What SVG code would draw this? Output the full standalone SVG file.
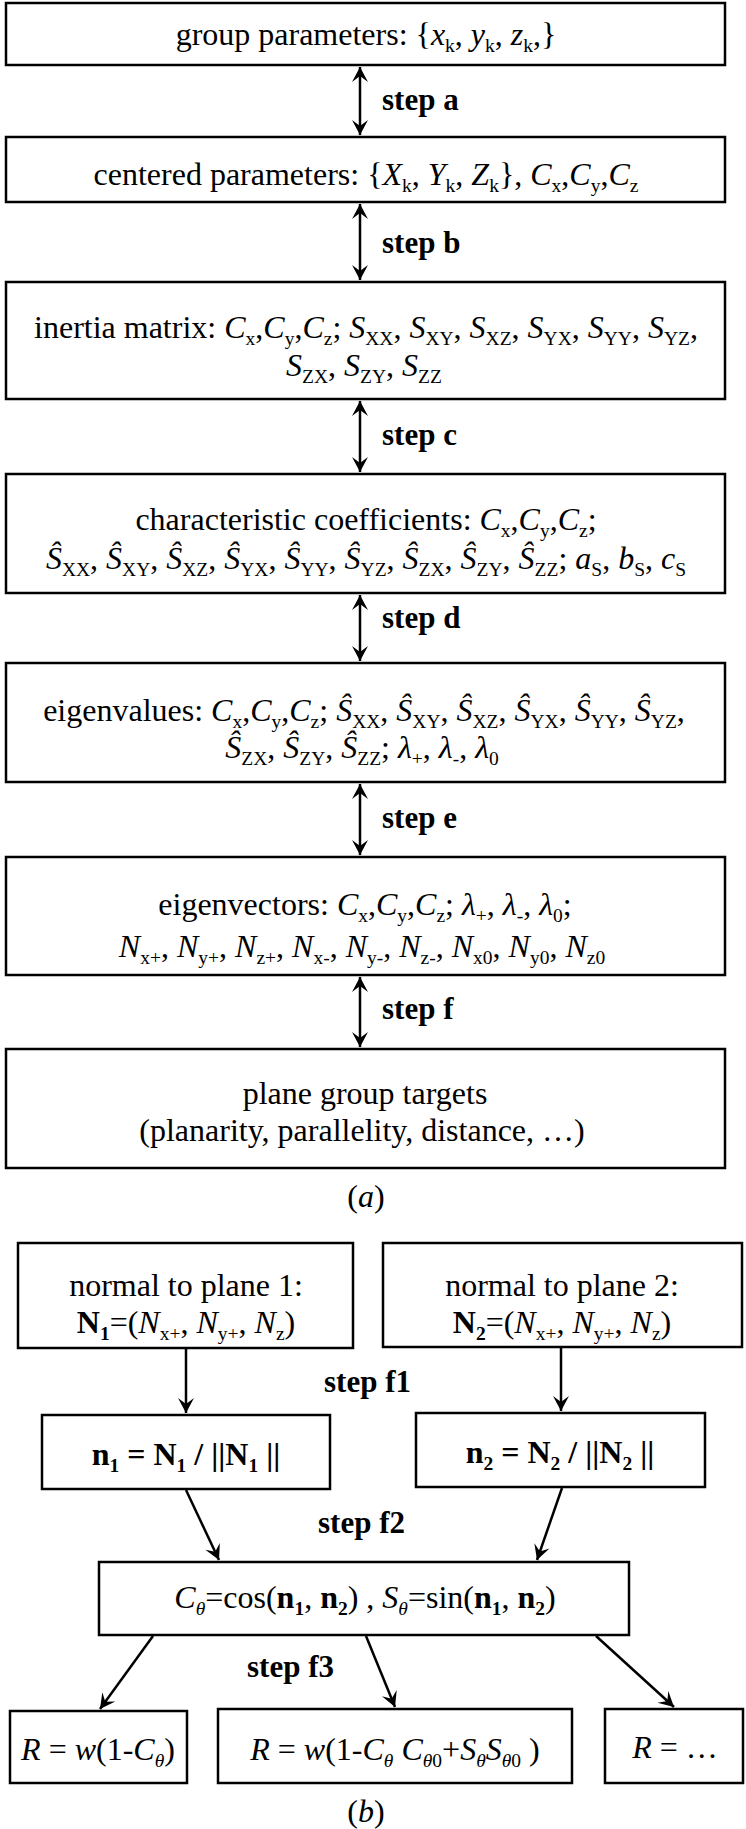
<svg xmlns="http://www.w3.org/2000/svg" width="746" height="1829" viewBox="0 0 746 1829">
<style>
rect{fill:#fff;stroke:#000;stroke-width:2.5}
.c line{stroke:#000;stroke-width:2.5}
text{font-family:"Liberation Serif","Times New Roman",serif;font-size:32px;fill:#000;text-anchor:middle}
.i{font-style:italic}
.b{font-weight:bold}
.s{font-size:19.5px;baseline-shift:-7px}
.st{font-weight:bold;font-size:31px;text-anchor:start}
</style>
<defs>
<marker id="ah" viewBox="-16 -9 17 18" refX="0" refY="0" markerWidth="17" markerHeight="18" markerUnits="userSpaceOnUse" orient="auto-start-reverse">
<path d="M0,0 L-15,-8 L-9,0 L-15,8 Z" fill="#000"/>
</marker>
</defs>
<rect width="746" height="1829" style="stroke:none"/>

<g id="connectors" class="c">
<line x1="360" y1="67" x2="360" y2="135" marker-start="url(#ah)" marker-end="url(#ah)"/>
<line x1="360" y1="204" x2="360" y2="280" marker-start="url(#ah)" marker-end="url(#ah)"/>
<line x1="360" y1="401" x2="360" y2="472" marker-start="url(#ah)" marker-end="url(#ah)"/>
<line x1="360" y1="595" x2="360" y2="661" marker-start="url(#ah)" marker-end="url(#ah)"/>
<line x1="360" y1="784" x2="360" y2="855" marker-start="url(#ah)" marker-end="url(#ah)"/>
<line x1="360" y1="977" x2="360" y2="1047" marker-start="url(#ah)" marker-end="url(#ah)"/>
<line x1="186" y1="1349" x2="186" y2="1413" marker-end="url(#ah)"/>
<line x1="561" y1="1348" x2="561" y2="1411" marker-end="url(#ah)"/>
<line x1="186" y1="1490" x2="219" y2="1560" marker-end="url(#ah)"/>
<line x1="562" y1="1488" x2="537" y2="1560" marker-end="url(#ah)"/>
<line x1="153" y1="1636" x2="100" y2="1709" marker-end="url(#ah)"/>
<line x1="366" y1="1636" x2="395" y2="1707" marker-end="url(#ah)"/>
<line x1="596" y1="1636" x2="674" y2="1707" marker-end="url(#ah)"/>
<text class="st" x="382" y="110">step a</text>
<text class="st" x="382" y="253">step b</text>
<text class="st" x="382" y="445">step c</text>
<text class="st" x="382" y="628">step d</text>
<text class="st" x="382" y="828">step e</text>
<text class="st" x="382" y="1019">step f</text>
<text class="st" x="324" y="1392">step f1</text>
<text class="st" x="318" y="1533">step f2</text>
<text class="st" x="247" y="1677">step f3</text>
</g>

<g id="box1">
<rect x="6" y="3" width="719" height="62"/>
<text x="366" y="45">group parameters: {<tspan class="i">x</tspan><tspan class="s">k</tspan>, <tspan class="i">y</tspan><tspan class="s">k</tspan>, <tspan class="i">z</tspan><tspan class="s">k</tspan>,}</text>
</g>

<g id="box2">
<rect x="6" y="137" width="719" height="65"/>
<text x="366" y="185">centered parameters: {<tspan class="i">X</tspan><tspan class="s">k</tspan>, <tspan class="i">Y</tspan><tspan class="s">k</tspan>, <tspan class="i">Z</tspan><tspan class="s">k</tspan>}, <tspan class="i">C</tspan><tspan class="s">x</tspan>,<tspan class="i">C</tspan><tspan class="s">y</tspan>,<tspan class="i">C</tspan><tspan class="s">z</tspan></text>
</g>

<g id="box3">
<rect x="6" y="282" width="719" height="117"/>
<text x="366" y="338">inertia matrix: <tspan class="i">C</tspan><tspan class="s">x</tspan>,<tspan class="i">C</tspan><tspan class="s">y</tspan>,<tspan class="i">C</tspan><tspan class="s">z</tspan>; <tspan class="i">S</tspan><tspan class="s">XX</tspan>, <tspan class="i">S</tspan><tspan class="s">XY</tspan>, <tspan class="i">S</tspan><tspan class="s">XZ</tspan>, <tspan class="i">S</tspan><tspan class="s">YX</tspan>, <tspan class="i">S</tspan><tspan class="s">YY</tspan>, <tspan class="i">S</tspan><tspan class="s">YZ</tspan>,</text>
<text x="364" y="376"><tspan class="i">S</tspan><tspan class="s">ZX</tspan>, <tspan class="i">S</tspan><tspan class="s">ZY</tspan>, <tspan class="i">S</tspan><tspan class="s">ZZ</tspan></text>
</g>

<g id="box4">
<rect x="6" y="474" width="719" height="119"/>
<text x="366" y="530">characteristic coefficients: <tspan class="i">C</tspan><tspan class="s">x</tspan>,<tspan class="i">C</tspan><tspan class="s">y</tspan>,<tspan class="i">C</tspan><tspan class="s">z</tspan>;</text>
<text x="366" y="569"><tspan class="i">Ŝ</tspan><tspan class="s">XX</tspan>, <tspan class="i">Ŝ</tspan><tspan class="s">XY</tspan>, <tspan class="i">Ŝ</tspan><tspan class="s">XZ</tspan>, <tspan class="i">Ŝ</tspan><tspan class="s">YX</tspan>, <tspan class="i">Ŝ</tspan><tspan class="s">YY</tspan>, <tspan class="i">Ŝ</tspan><tspan class="s">YZ</tspan>, <tspan class="i">Ŝ</tspan><tspan class="s">ZX</tspan>, <tspan class="i">Ŝ</tspan><tspan class="s">ZY</tspan>, <tspan class="i">Ŝ</tspan><tspan class="s">ZZ</tspan>; <tspan class="i">a</tspan><tspan class="s">S</tspan>, <tspan class="i">b</tspan><tspan class="s">S</tspan>, <tspan class="i">c</tspan><tspan class="s">S</tspan></text>
</g>

<g id="box5">
<rect x="6" y="663" width="719" height="119"/>
<text x="364" y="721">eigenvalues: <tspan class="i">C</tspan><tspan class="s">x</tspan>,<tspan class="i">C</tspan><tspan class="s">y</tspan>,<tspan class="i">C</tspan><tspan class="s">z</tspan>; <tspan class="i">Ŝ</tspan><tspan class="s">XX</tspan>, <tspan class="i">Ŝ</tspan><tspan class="s">XY</tspan>, <tspan class="i">Ŝ</tspan><tspan class="s">XZ</tspan>, <tspan class="i">Ŝ</tspan><tspan class="s">YX</tspan>, <tspan class="i">Ŝ</tspan><tspan class="s">YY</tspan>, <tspan class="i">Ŝ</tspan><tspan class="s">YZ</tspan>,</text>
<text x="362" y="758"><tspan class="i">Ŝ</tspan><tspan class="s">ZX</tspan>, <tspan class="i">Ŝ</tspan><tspan class="s">ZY</tspan>, <tspan class="i">Ŝ</tspan><tspan class="s">ZZ</tspan>; <tspan class="i">λ</tspan><tspan class="s">+</tspan>, <tspan class="i">λ</tspan><tspan class="s">-</tspan>, <tspan class="i">λ</tspan><tspan class="s">0</tspan></text>
</g>

<g id="box6">
<rect x="6" y="857" width="719" height="118"/>
<text x="365" y="915">eigenvectors: <tspan class="i">C</tspan><tspan class="s">x</tspan>,<tspan class="i">C</tspan><tspan class="s">y</tspan>,<tspan class="i">C</tspan><tspan class="s">z</tspan>; <tspan class="i">λ</tspan><tspan class="s">+</tspan>, <tspan class="i">λ</tspan><tspan class="s">-</tspan>, <tspan class="i">λ</tspan><tspan class="s">0</tspan>;</text>
<text x="362" y="957"><tspan class="i">N</tspan><tspan class="s">x+</tspan>, <tspan class="i">N</tspan><tspan class="s">y+</tspan>, <tspan class="i">N</tspan><tspan class="s">z+</tspan>, <tspan class="i">N</tspan><tspan class="s">x-</tspan>, <tspan class="i">N</tspan><tspan class="s">y-</tspan>, <tspan class="i">N</tspan><tspan class="s">z-</tspan>, <tspan class="i">N</tspan><tspan class="s">x0</tspan>, <tspan class="i">N</tspan><tspan class="s">y0</tspan>, <tspan class="i">N</tspan><tspan class="s">z0</tspan></text>
</g>

<g id="box7">
<rect x="6" y="1049" width="719" height="119"/>
<text x="365" y="1104">plane group targets</text>
<text x="362" y="1141">(planarity, parallelity, distance, …)</text>
</g>

<g id="label-a">
<text x="366" y="1207">(<tspan class="i">a</tspan>)</text>
</g>

<g id="box8">
<rect x="18" y="1243" width="335" height="105"/>
<text x="186" y="1296">normal to plane 1:</text>
<text x="186" y="1333"><tspan class="b">N</tspan><tspan class="s b">1</tspan>=(<tspan class="i">N</tspan><tspan class="s">x+</tspan>, <tspan class="i">N</tspan><tspan class="s">y+</tspan>, <tspan class="i">N</tspan><tspan class="s">z</tspan>)</text>
</g>

<g id="box9">
<rect x="383" y="1243" width="359" height="104"/>
<text x="562" y="1296">normal to plane 2:</text>
<text x="562" y="1333"><tspan class="b">N</tspan><tspan class="s b">2</tspan>=(<tspan class="i">N</tspan><tspan class="s">x+</tspan>, <tspan class="i">N</tspan><tspan class="s">y+</tspan>, <tspan class="i">N</tspan><tspan class="s">z</tspan>)</text>
</g>

<g id="box10">
<rect x="42" y="1415" width="288" height="74"/>
<text class="b" x="186" y="1465">n<tspan class="s">1</tspan> = N<tspan class="s">1</tspan> / ||N<tspan class="s">1</tspan> ||</text>
</g>

<g id="box11">
<rect x="416" y="1413" width="289" height="74"/>
<text class="b" x="560" y="1463">n<tspan class="s">2</tspan> = N<tspan class="s">2</tspan> / ||N<tspan class="s">2</tspan> ||</text>
</g>

<g id="box12">
<rect x="99" y="1562" width="530" height="73"/>
<text x="365" y="1608"><tspan class="i">C</tspan><tspan class="s i">θ</tspan>=cos(<tspan class="b">n</tspan><tspan class="s b">1</tspan>, <tspan class="b">n</tspan><tspan class="s b">2</tspan>) , <tspan class="i">S</tspan><tspan class="s i">θ</tspan>=sin(<tspan class="b">n</tspan><tspan class="s b">1</tspan>, <tspan class="b">n</tspan><tspan class="s b">2</tspan>)</text>
</g>

<g id="box13">
<rect x="10" y="1711" width="177" height="72"/>
<text x="98" y="1760"><tspan class="i">R</tspan> = <tspan class="i">w</tspan>(1-<tspan class="i">C</tspan><tspan class="s i">θ</tspan>)</text>
</g>

<g id="box14">
<rect x="218" y="1709" width="354" height="74"/>
<text x="395" y="1760"><tspan class="i">R</tspan> = <tspan class="i">w</tspan>(1-<tspan class="i">C</tspan><tspan class="s i">θ</tspan> <tspan class="i">C</tspan><tspan class="s"><tspan class="i">θ</tspan>0</tspan>+<tspan class="i">S</tspan><tspan class="s i">θ</tspan><tspan class="i">S</tspan><tspan class="s"><tspan class="i">θ</tspan>0</tspan> )</text>
</g>

<g id="box15">
<rect x="605" y="1709" width="138" height="74"/>
<text x="675" y="1758"><tspan class="i">R</tspan> = …</text>
</g>

<g id="label-b">
<text x="366" y="1822">(<tspan class="i">b</tspan>)</text>
</g>
</svg>
